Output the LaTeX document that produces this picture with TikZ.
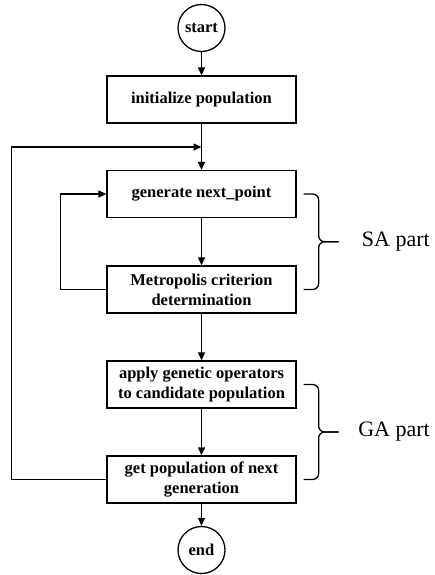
\documentclass[tikz,border=0pt]{standalone}
\usepackage{fontspec}
\setmainfont{Liberation Serif}
\usetikzlibrary{arrows.meta,calc}
\tikzset{
    procbox/.style={draw, line width=1.3pt, minimum width=189pt, minimum height=47pt, align=center, inner sep=2pt, font=\fontsize{16.5}{20}\selectfont\bfseries}, % process box
    termnode/.style={draw, circle, line width=1.3pt, minimum size=47pt, inner sep=0pt, font=\fontsize{16.5}{20}\selectfont\bfseries}, % start / end
    flow/.style={line width=1.3pt, -{Stealth[length=8pt, width=7pt, inset=0pt]}},
    partline/.style={line width=1.3pt, rounded corners=6pt},
    partlabel/.style={inner sep=0pt, anchor=east, font=\fontsize{22}{26}\selectfont}
}

\begin{document}
\begin{tikzpicture}[x=1pt, y=-1pt]
    \useasboundingbox (0,0) rectangle (435,575);
    \def\xc{201.5}

    \node[termnode] (start) at (\xc,28) {start};
    \node[procbox] (init) at (\xc,99.5) {initialize population};
    \node[procbox] (gen) at (\xc,194) {generate next\_point};
    \node[procbox] (metro) at (\xc,289.5) {Metropolis criterion\\determination};
    \node[procbox] (apply) at (\xc,384.5) {apply genetic operators\\to candidate population};
    \node[procbox] (nextgen) at (\xc,479.5) {get population of next\\generation};
    \node[termnode] (end) at (\xc,550) {end};
    \coordinate (join) at (\xc,147);

    \draw[flow] (start) -- (init);
    \draw[flow] (init) -- (gen);
    \draw[flow] (gen) -- (metro);
    \draw[flow] (metro) -- (apply);
    \draw[flow] (apply) -- (nextgen);
    \draw[flow] (nextgen) -- (end);

    % loops back
    \draw[flow] (metro.west) -- ++(-46,0) |- (gen.west);
    \draw[flow] (nextgen.west) -- ++(-95,0) |- (join);

    % SA part
    \coordinate (satop) at ([xshift=7pt]gen.east);
    \coordinate (sabot) at ([xshift=7pt]metro.east);
    \coordinate (samid) at ($(satop)!0.5!(sabot)+(15,0)$);
    \draw[partline] (satop) -| (samid) -- ++(20,0);
    \draw[partline] (sabot) -| (samid) -- ++(20,0);
    \node[partlabel] (sa) at (430,241.5) {SA part};

    % GA part
    \coordinate (gatop) at ([xshift=7pt]apply.east);
    \coordinate (gabot) at ([xshift=7pt]nextgen.east);
    \coordinate (gamid) at ($(gatop)!0.5!(gabot)+(15,0)$);
    \draw[partline] (gatop) -| (gamid) -- ++(20,0);
    \draw[partline] (gabot) -| (gamid) -- ++(20,0);
    \node[partlabel] (ga) at (430,431.5) {GA part};
\end{tikzpicture}
\end{document}
